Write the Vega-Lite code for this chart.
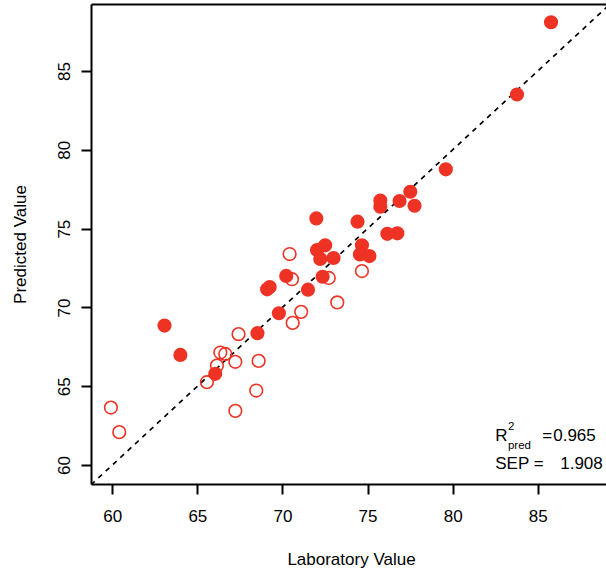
{
  "$schema": "https://vega.github.io/schema/vega-lite/v6.json",
  "width": 515,
  "height": 480,
  "autosize": "none",
  "padding": {"left": 91, "top": 4, "right": 0, "bottom": 87},
  "config": {
    "view": {"stroke": null},
    "font": "Liberation Sans",
    "axis": {
      "grid": false,
      "domainColor": "black",
      "domainWidth": 2,
      "tickColor": "black",
      "tickWidth": 2,
      "tickSize": 10,
      "labelFont": "Liberation Sans",
      "labelFontSize": 17,
      "labelColor": "black",
      "titleFont": "Liberation Sans",
      "titleFontSize": 17,
      "titleFontWeight": "normal",
      "titleColor": "black"
    },
    "axisLeft": {
      "labelAngle": -90,
      "labelAlign": "center",
      "labelBaseline": "alphabetic",
      "labelPadding": 12,
      "titleAngle": -90,
      "titleBaseline": "alphabetic",
      "titleX": -66,
      "titleY": 240
    },
    "axisBottom": {
      "labelPadding": 14,
      "titleBaseline": "alphabetic",
      "titleX": 260,
      "titleY": 80
    }
  },
  "datasets": {
    "reference": [
      {"lab": 58.75, "pred": 58.75},
      {"lab": 89.25, "pred": 89.25}
    ],
    "calibration": [
      {"lab": 85.78, "pred": 88.09},
      {"lab": 83.78, "pred": 83.51},
      {"lab": 79.6, "pred": 78.76},
      {"lab": 77.51, "pred": 77.34},
      {"lab": 76.88, "pred": 76.75},
      {"lab": 77.76, "pred": 76.45},
      {"lab": 75.75, "pred": 76.78},
      {"lab": 75.75, "pred": 76.39},
      {"lab": 76.16, "pred": 74.67},
      {"lab": 76.75, "pred": 74.7},
      {"lab": 71.99, "pred": 75.65},
      {"lab": 74.41, "pred": 75.44},
      {"lab": 72.03, "pred": 73.64},
      {"lab": 72.51, "pred": 73.94},
      {"lab": 72.22, "pred": 73.08},
      {"lab": 73.0, "pred": 73.14},
      {"lab": 74.67, "pred": 73.94},
      {"lab": 74.55, "pred": 73.36},
      {"lab": 75.11, "pred": 73.26},
      {"lab": 72.36, "pred": 71.95},
      {"lab": 70.22, "pred": 72.0},
      {"lab": 69.1, "pred": 71.15},
      {"lab": 69.25, "pred": 71.3},
      {"lab": 71.5, "pred": 71.13},
      {"lab": 69.79, "pred": 69.63},
      {"lab": 68.53, "pred": 68.37},
      {"lab": 66.05, "pred": 65.79},
      {"lab": 63.07, "pred": 68.85},
      {"lab": 64.0, "pred": 66.99}
    ],
    "validation": [
      {"lab": 59.92, "pred": 63.65},
      {"lab": 60.41, "pred": 62.09},
      {"lab": 65.56, "pred": 65.26},
      {"lab": 66.15, "pred": 66.31},
      {"lab": 66.35, "pred": 67.14},
      {"lab": 66.64, "pred": 67.05},
      {"lab": 67.23, "pred": 66.55},
      {"lab": 67.42, "pred": 68.31},
      {"lab": 67.23, "pred": 63.44},
      {"lab": 68.6, "pred": 66.61},
      {"lab": 68.46, "pred": 64.73},
      {"lab": 70.6, "pred": 69.02},
      {"lab": 71.1, "pred": 69.72},
      {"lab": 70.56, "pred": 71.79},
      {"lab": 70.42, "pred": 73.39},
      {"lab": 73.22, "pred": 70.32},
      {"lab": 74.67, "pred": 72.31},
      {"lab": 72.72, "pred": 71.87}
    ],
    "stats": [
      {"lab": 82.5, "pred": 61.5, "label": "R"},
      {"lab": 85.26, "pred": 61.5, "label": "="},
      {"lab": 85.91, "pred": 61.5, "label": "0.965"},
      {"lab": 82.5, "pred": 59.77, "label": "SEP ="},
      {"lab": 86.32, "pred": 59.77, "label": "1.908"}
    ],
    "statsScripts": [
      {"lab": 83.25, "pred": 62.25, "label": "2"},
      {"lab": 83.25, "pred": 61.03, "label": "pred"}
    ]
  },
  "layer": [
    {
      "data": {"name": "reference"},
      "mark": {"type": "line", "color": "black", "strokeWidth": 1.7, "strokeDash": [5, 5], "clip": true},
      "encoding": {
        "x": {"field": "lab", "type": "quantitative",
              "scale": {"domain": [58.75, 89.01], "nice": false, "zero": false},
              "axis": {"orient": "top", "labels": false, "ticks": false, "title": null, "domain": true}},
        "y": {"field": "pred", "type": "quantitative",
              "scale": {"domain": [58.8, 89.25], "nice": false, "zero": false},
              "title": "Predicted Value",
              "axis": {"values": [60, 65, 70, 75, 80, 85]}}
      }
    },
    {
      "data": {"name": "calibration"},
      "mark": {"type": "circle", "color": "#EE3224", "opacity": 1, "size": 200},
      "encoding": {
        "x": {"field": "lab", "type": "quantitative", "title": "Laboratory Value",
              "axis": {"orient": "bottom", "values": [60, 65, 70, 75, 80, 85]}},
        "y": {"field": "pred", "type": "quantitative", "title": "Predicted Value"}
      }
    },
    {
      "data": {"name": "validation"},
      "mark": {"type": "point", "shape": "circle", "filled": false, "color": "#EE3224", "strokeWidth": 1.6, "opacity": 1, "size": 160},
      "encoding": {
        "x": {"field": "lab", "type": "quantitative", "axis": null},
        "y": {"field": "pred", "type": "quantitative", "title": "Predicted Value"}
      }
    },
    {
      "data": {"name": "stats"},
      "mark": {"type": "text", "align": "left", "baseline": "alphabetic", "fontSize": 17, "font": "Liberation Sans", "color": "black"},
      "encoding": {
        "x": {"field": "lab", "type": "quantitative", "axis": null},
        "y": {"field": "pred", "type": "quantitative", "title": "Predicted Value"},
        "text": {"field": "label"}
      }
    },
    {
      "data": {"name": "statsScripts"},
      "mark": {"type": "text", "align": "left", "baseline": "alphabetic", "fontSize": 11.5, "font": "Liberation Sans", "color": "black"},
      "encoding": {
        "x": {"field": "lab", "type": "quantitative", "axis": null},
        "y": {"field": "pred", "type": "quantitative", "title": "Predicted Value"},
        "text": {"field": "label"}
      }
    }
  ],
  "resolve": {"axis": {"x": "independent"}}
}
